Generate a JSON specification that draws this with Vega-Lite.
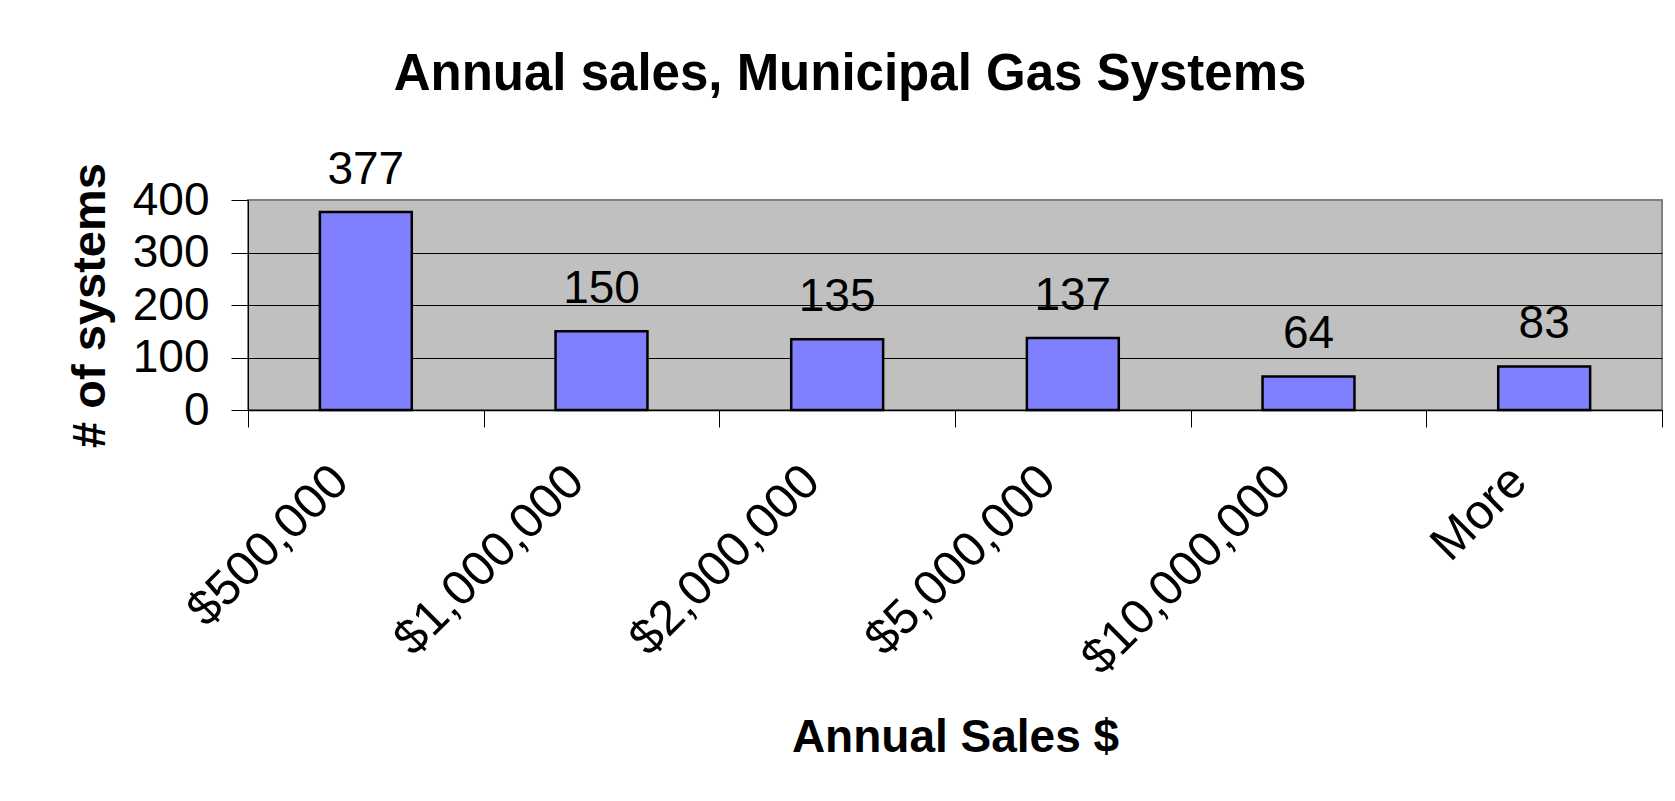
{
  "$schema": "https://vega.github.io/schema/vega-lite/v6.json",
  "width": 1414,
  "height": 210,
  "autosize": {"type": "none"},
  "padding": {"left": 248, "top": 200, "right": 13, "bottom": 391},
  "background": "white",
  "title": {
    "text": "Annual sales, Municipal Gas Systems",
    "font": "Liberation Sans",
    "fontSize": 51,
    "fontWeight": "bold",
    "color": "black",
    "anchor": "middle",
    "dx": -105,
    "offset": 46
  },
  "data": {
    "values": [
      {"sales": "$500,000", "count": 377},
      {"sales": "$1,000,000", "count": 150},
      {"sales": "$2,000,000", "count": 135},
      {"sales": "$5,000,000", "count": 137},
      {"sales": "$10,000,000", "count": 64},
      {"sales": "More", "count": 83}
    ]
  },
  "encoding": {
    "x": {
      "field": "sales",
      "type": "nominal",
      "sort": null,
      "scale": {"paddingInner": 0, "paddingOuter": 0},
      "axis": {
        "title": "Annual Sales $",
        "titleFont": "Liberation Sans",
        "titleFontSize": 46,
        "titleFontWeight": "bold",
        "titleColor": "black",
        "titlePadding": 105,
        "labelFont": "Liberation Sans",
        "labelFontSize": 49,
        "labelColor": "black",
        "labelAngle": -45,
        "labelAlign": "right",
        "labelBaseline": "middle",
        "labelPadding": 46,
        "labelOffset": -26,
        "labelLimit": 0,
        "labelOverlap": false,
        "tickBand": "extent",
        "tickSize": 17,
        "tickColor": "black",
        "tickWidth": 1,
        "domainColor": "black",
        "domainWidth": 1.5,
        "grid": false
      }
    },
    "y": {
      "field": "count",
      "type": "quantitative",
      "scale": {"domain": [0, 400], "nice": false},
      "axis": {
        "title": "# of systems",
        "titleFont": "Liberation Sans",
        "titleFontSize": 47,
        "titleFontWeight": "bold",
        "titleColor": "black",
        "titlePadding": 18,
        "values": [0, 100, 200, 300, 400],
        "labelFont": "Liberation Sans",
        "labelFontSize": 46,
        "labelColor": "black",
        "labelPadding": 22,
        "labelBaseline": "middle",
        "tickSize": 17,
        "tickColor": "black",
        "tickWidth": 1,
        "domainColor": "black",
        "domainWidth": 1,
        "grid": true,
        "gridColor": {"condition": {"test": "datum.value == 400", "value": "#808080"}, "value": "black"},
        "gridWidth": 1,
        "gridOpacity": 1
      }
    }
  },
  "layer": [
    {
      "mark": {"type": "bar", "fill": "#8080FF", "stroke": "black", "strokeWidth": 2.5, "width": {"band": 0.39}}
    },
    {
      "mark": {"type": "text", "font": "Liberation Sans", "fontSize": 46, "color": "black", "baseline": "alphabetic", "dy": -28},
      "encoding": {"text": {"field": "count", "type": "quantitative"}}
    }
  ],
  "config": {
    "view": {"fill": "#C0C0C0", "stroke": "#808080", "strokeWidth": 2}
  }
}
